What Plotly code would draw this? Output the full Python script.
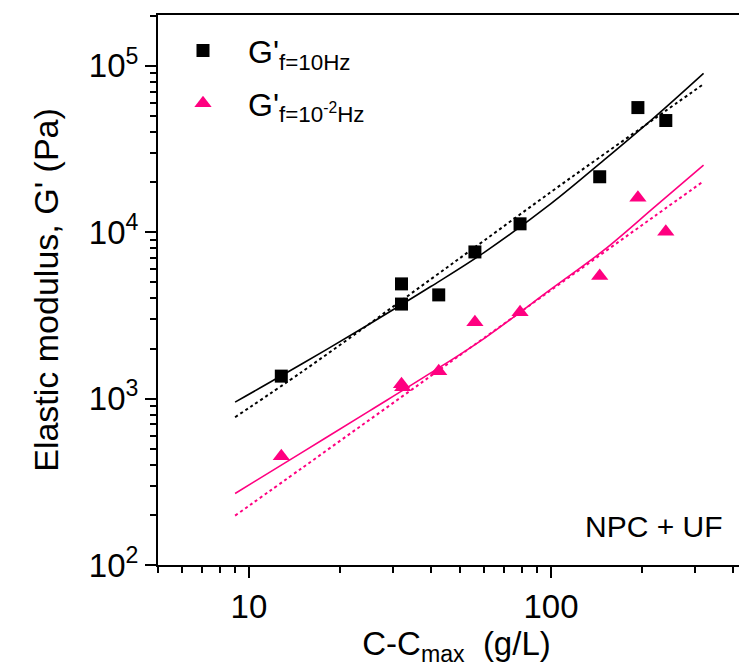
import math
import plotly.graph_objects as go

# --- data ---
conc_sq = [12.8, 32.0, 32.0, 42.5, 56.0, 79.0, 145.0, 194.0, 240.0]
g_high = [1365, 4890, 3700, 4200, 7610, 11230, 21540, 56100, 46900]
conc_tri = [12.8, 32.0, 32.3, 42.5, 56.0, 79.0, 145.0, 194.0, 240.0]
g_low = [450, 1220, 1170, 1460, 2880, 3300, 5460, 16100, 10050]

fit_x = [9, 15, 25, 40, 60, 100, 150, 220, 320]
fit_high_solid = [952, 1619, 2799, 4715, 7543, 14840, 27200, 49020, 90120]
fit_high_dot = [773, 1451, 2807, 5216, 8895, 17450, 29470, 48080, 77680]
fit_low_solid = [269, 475, 841, 1427, 2296, 4547, 7822, 14140, 25310]
fit_low_dot = [198, 383, 743, 1367, 2312, 4484, 7586, 12460, 20250]

x_ticks = [10, 100]
y_ticks = [100, 1000, 10000, 100000]
y_ticktext = ["10<sup>2</sup>", "10<sup>3</sup>", "10<sup>4</sup>", "10<sup>5</sup>"]

BLACK = "#000000"
PINK = "#FF0080"
FONT = "Liberation Sans, Arial, sans-serif"

fig = go.Figure()

fig.add_trace(go.Scatter(x=fit_x, y=fit_high_solid, mode="lines",
                         line=dict(color=BLACK, width=1.6, shape="spline"),
                         showlegend=False, hoverinfo="skip"))
fig.add_trace(go.Scatter(x=fit_x, y=fit_high_dot, mode="lines",
                         line=dict(color=BLACK, width=2, dash="dot", shape="spline"),
                         showlegend=False, hoverinfo="skip"))
fig.add_trace(go.Scatter(x=fit_x, y=fit_low_solid, mode="lines",
                         line=dict(color=PINK, width=1.6, shape="spline"),
                         showlegend=False, hoverinfo="skip"))
fig.add_trace(go.Scatter(x=fit_x, y=fit_low_dot, mode="lines",
                         line=dict(color=PINK, width=2, dash="dot", shape="spline"),
                         showlegend=False, hoverinfo="skip"))

fig.add_trace(go.Scatter(x=conc_sq, y=g_high, mode="markers",
                         name="G'<sub>f=10Hz</sub>", legendgroup="a",
                         marker=dict(symbol="square", size=13, color=BLACK,
                                     line=dict(width=0))))
fig.add_trace(go.Scatter(x=conc_tri, y=g_low, mode="markers",
                         name="G'<sub>f=10<sup>-2</sup>Hz</sub>", legendgroup="b",
                         marker=dict(symbol="triangle-up", size=15, color=PINK,
                                     line=dict(width=0))))

xr = [math.log10(5), 2.6755]
fig.update_layout(
    width=747, height=669,
    margin=dict(l=150, r=0, t=7, b=112),
    paper_bgcolor="white", plot_bgcolor="white",
    font=dict(family=FONT, color="black"),
    xaxis=dict(type="log", range=xr, tickvals=x_ticks, ticktext=["10", "100"],
               showgrid=False, zeroline=False,
               showline=True, linecolor="black", linewidth=2, mirror=True,
               ticks="outside", ticklen=11, tickwidth=2, tickcolor="black",
               tickfont=dict(size=33, family=FONT),
               minor=dict(ticks="outside", ticklen=6, tickwidth=2,
                          tickcolor="black", dtick="D1", showgrid=False),
               title=dict(text="C-C<sub>max</sub>  (g/L)",
                          font=dict(size=33, family=FONT), standoff=0)),
    xaxis2=dict(type="log", range=xr, overlaying="x", side="top", anchor="y",
                showgrid=False, zeroline=False, showline=False,
                showticklabels=False, tickvals=x_ticks,
                ticks="inside", ticklen=7, tickwidth=2, tickcolor="black",
                minor=dict(ticks="inside", ticklen=4, tickwidth=1.5,
                           tickcolor="black", dtick="D1", showgrid=False)),
    yaxis=dict(type="log", range=[2, math.log10(2.02e5)],
               tickvals=y_ticks, ticktext=y_ticktext,
               showgrid=False, zeroline=False,
               showline=True, linecolor="black", linewidth=2,
               ticks="outside", ticklen=11, tickwidth=2, tickcolor="black",
               tickfont=dict(size=33, family=FONT),
               minor=dict(ticks="outside", ticklen=6, tickwidth=2,
                          tickcolor="black", dtick="D1", showgrid=False),
               title=dict(text="Elastic modulus, G' (Pa)",
                          font=dict(size=34, family=FONT), standoff=20)),
    legend=dict(x=0.0, y=0.985, xanchor="left", yanchor="top",
                bgcolor="rgba(0,0,0,0)", borderwidth=0,
                font=dict(size=32, family=FONT), itemwidth=80,
                tracegroupgap=8),
    annotations=[dict(text="NPC + UF", xref="paper", yref="paper",
                      x=0.83, y=0.07, xanchor="center", yanchor="middle",
                      showarrow=False, font=dict(size=30, family=FONT))],
)

fig.write_html("out.html")
